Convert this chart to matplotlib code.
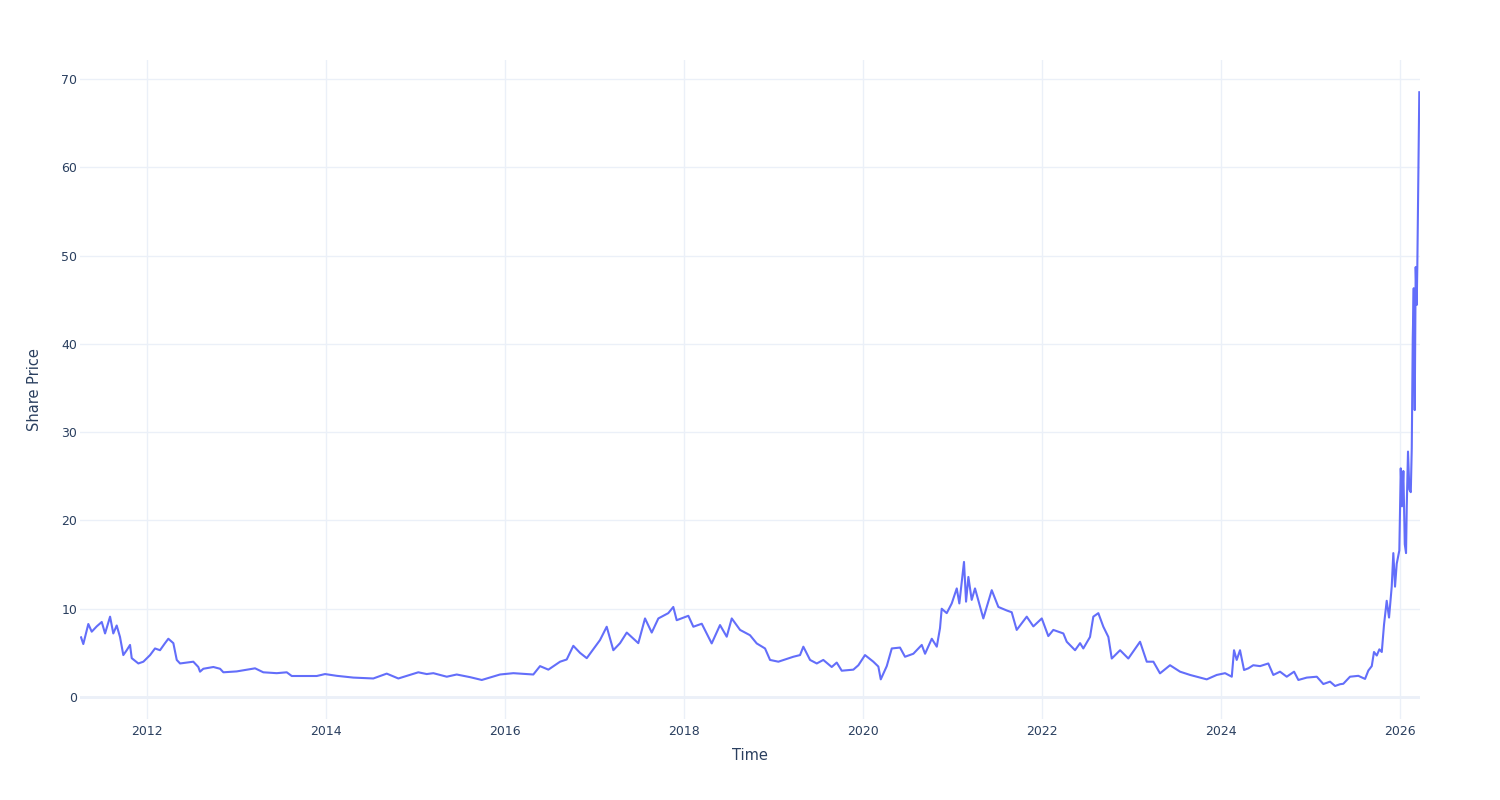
import numpy as np
import matplotlib
matplotlib.use("Agg")
import matplotlib.pyplot as plt

# -----------------------------
# Data (decimal year, share price)
# -----------------------------
years = [
    2011.263, 2011.288, 2011.344, 2011.382, 2011.438, 2011.494, 2011.531, 2011.587,
    2011.623, 2011.661, 2011.698, 2011.735, 2011.773, 2011.810, 2011.829, 2011.903,
    2011.959, 2012.034, 2012.089, 2012.145, 2012.201, 2012.238, 2012.294, 2012.332,
    2012.369, 2012.517, 2012.573, 2012.592, 2012.629, 2012.741, 2012.816, 2012.853,
    2013.002, 2013.207, 2013.299, 2013.449, 2013.561, 2013.617, 2013.746, 2013.896,
    2013.989, 2014.120, 2014.305, 2014.528, 2014.678, 2014.808, 2015.031, 2015.125,
    2015.199, 2015.349, 2015.460, 2015.609, 2015.740, 2015.944, 2016.093, 2016.316,
    2016.391, 2016.484, 2016.615, 2016.689, 2016.763, 2016.838, 2016.913, 2017.061,
    2017.136, 2017.210, 2017.285, 2017.360, 2017.489, 2017.564, 2017.639, 2017.713,
    2017.824, 2017.880, 2017.918, 2018.048, 2018.104, 2018.198, 2018.309, 2018.402,
    2018.477, 2018.533, 2018.626, 2018.737, 2018.812, 2018.905, 2018.961, 2019.054,
    2019.221, 2019.296, 2019.333, 2019.408, 2019.483, 2019.556, 2019.650, 2019.706,
    2019.762, 2019.892, 2019.948, 2020.022, 2020.115, 2020.171, 2020.198, 2020.265,
    2020.321, 2020.413, 2020.469, 2020.562, 2020.656, 2020.693, 2020.768, 2020.824,
    2020.860, 2020.879, 2020.935, 2020.991, 2021.047, 2021.076, 2021.128, 2021.151,
    2021.177, 2021.214, 2021.251, 2021.344, 2021.438, 2021.512, 2021.606, 2021.661,
    2021.717, 2021.829, 2021.903, 2021.997, 2022.070, 2022.126, 2022.238, 2022.276,
    2022.369, 2022.425, 2022.461, 2022.536, 2022.573, 2022.629, 2022.685, 2022.741,
    2022.779, 2022.872, 2022.964, 2023.095, 2023.170, 2023.244, 2023.318, 2023.430,
    2023.542, 2023.654, 2023.840, 2023.952, 2024.045, 2024.120, 2024.145, 2024.175,
    2024.212, 2024.257, 2024.305, 2024.360, 2024.436, 2024.528, 2024.584, 2024.659,
    2024.734, 2024.816, 2024.864, 2024.958, 2025.070, 2025.143, 2025.218, 2025.274,
    2025.330, 2025.366, 2025.441, 2025.534, 2025.609, 2025.646, 2025.684, 2025.709,
    2025.740, 2025.769, 2025.796, 2025.821, 2025.851, 2025.877, 2025.907, 2025.925,
    2025.944, 2025.963, 2025.992, 2026.008, 2026.022, 2026.037, 2026.053, 2026.067,
    2026.075, 2026.089, 2026.104, 2026.120, 2026.131, 2026.142, 2026.153, 2026.164,
    2026.175, 2026.186, 2026.193, 2026.204, 2026.215,
]

price = [
    6.76, 6.0, 8.27, 7.4, 8.0, 8.5, 7.2, 9.1,
    7.2, 8.1, 6.8, 4.75, 5.3, 5.9, 4.4, 3.8,
    4.0, 4.75, 5.5, 5.3, 6.1, 6.6, 6.1, 4.2,
    3.8, 4.0, 3.4, 2.87, 3.2, 3.4, 3.2, 2.8,
    2.9, 3.25, 2.8, 2.7, 2.8, 2.38, 2.38, 2.38,
    2.6, 2.4, 2.2, 2.1, 2.65, 2.1, 2.8, 2.6,
    2.7, 2.3, 2.55, 2.25, 1.93, 2.55, 2.7, 2.55,
    3.5, 3.1, 4.0, 4.25, 5.8, 5.0, 4.4, 6.45,
    7.96, 5.3, 6.1, 7.3, 6.1, 8.9, 7.3, 8.9,
    9.5, 10.2, 8.7, 9.2, 7.96, 8.3, 6.07, 8.15,
    6.83, 8.9, 7.6, 7.0, 6.07, 5.5, 4.2, 4.0,
    4.56, 4.75, 5.7, 4.2, 3.8, 4.2, 3.4, 3.9,
    2.98, 3.1, 3.6, 4.75, 4.0, 3.45, 2.0, 3.5,
    5.5, 5.6, 4.56, 4.9, 5.9, 4.9, 6.6, 5.7,
    7.8, 10.0, 9.5, 10.6, 12.3, 10.6, 15.3, 10.8,
    13.6, 11.0, 12.3, 8.9, 12.1, 10.2, 9.8, 9.6,
    7.6, 9.1, 8.0, 8.9, 6.9, 7.6, 7.2, 6.26,
    5.3, 6.1, 5.5, 6.8, 9.1, 9.5, 7.96, 6.8,
    4.36, 5.3, 4.36, 6.26, 4.0, 4.0, 2.68, 3.6,
    2.87, 2.5, 2.0, 2.5, 2.7, 2.3, 5.3, 4.2,
    5.3, 3.06, 3.25, 3.6, 3.5, 3.8, 2.5, 2.87,
    2.3, 2.87, 1.93, 2.2, 2.3, 1.47, 1.74, 1.25,
    1.45, 1.5, 2.3, 2.4, 2.05, 3.0, 3.5, 5.1,
    4.7, 5.4, 5.1, 8.2, 10.9, 9.0, 12.5, 16.3,
    12.5, 15.1, 16.6, 25.9, 21.6, 25.6, 17.3, 16.3,
    21.6, 27.8, 23.5, 23.2, 28.2, 40.6, 46.3, 32.5,
    48.7, 44.4, 48.7, 58.2, 68.5,
]

year_ticks = [2012, 2014, 2016, 2018, 2020, 2022, 2024, 2026]
price_ticks = [0, 10, 20, 30, 40, 50, 60, 70]

# -----------------------------
# Plot (plotly_white look)
# -----------------------------
text_color = "#2a3f5f"
grid_color = "#EBF0F8"

fig = plt.figure(figsize=(15, 8), dpi=100)
ax = fig.add_axes([80 / 1500, 81 / 800, 1340 / 1500, 659 / 800])

ax.plot(years, price, color="#636EFA", linewidth=1.5, zorder=3)

ax.set_xlim(2011.251, 2026.223)
ax.set_ylim(-2.49, 72.15)

ax.set_xticks(year_ticks)
ax.set_xticklabels([str(y) for y in year_ticks])
ax.set_yticks(price_ticks)
ax.set_yticklabels([str(p) for p in price_ticks])

ax.grid(True, color=grid_color, linewidth=1, zorder=0)
ax.axhline(0, color=grid_color, linewidth=2, zorder=1)

for s in ax.spines.values():
    s.set_visible(False)

ax.tick_params(axis="both", length=0, labelsize=9, labelcolor=text_color)
ax.tick_params(axis="y", pad=2)
ax.tick_params(axis="x", pad=4)

ax.set_xlabel("Time", fontsize=10.5, color=text_color)
ax.set_ylabel("Share Price", fontsize=10.5, color=text_color)
ax.xaxis.label.set_va("center")
ax.yaxis.label.set_va("center")
ax.xaxis.set_label_coords(0.5, -0.0561)
ax.yaxis.set_label_coords(-0.0343, 0.5)

plt.savefig("out.png", dpi=100)
